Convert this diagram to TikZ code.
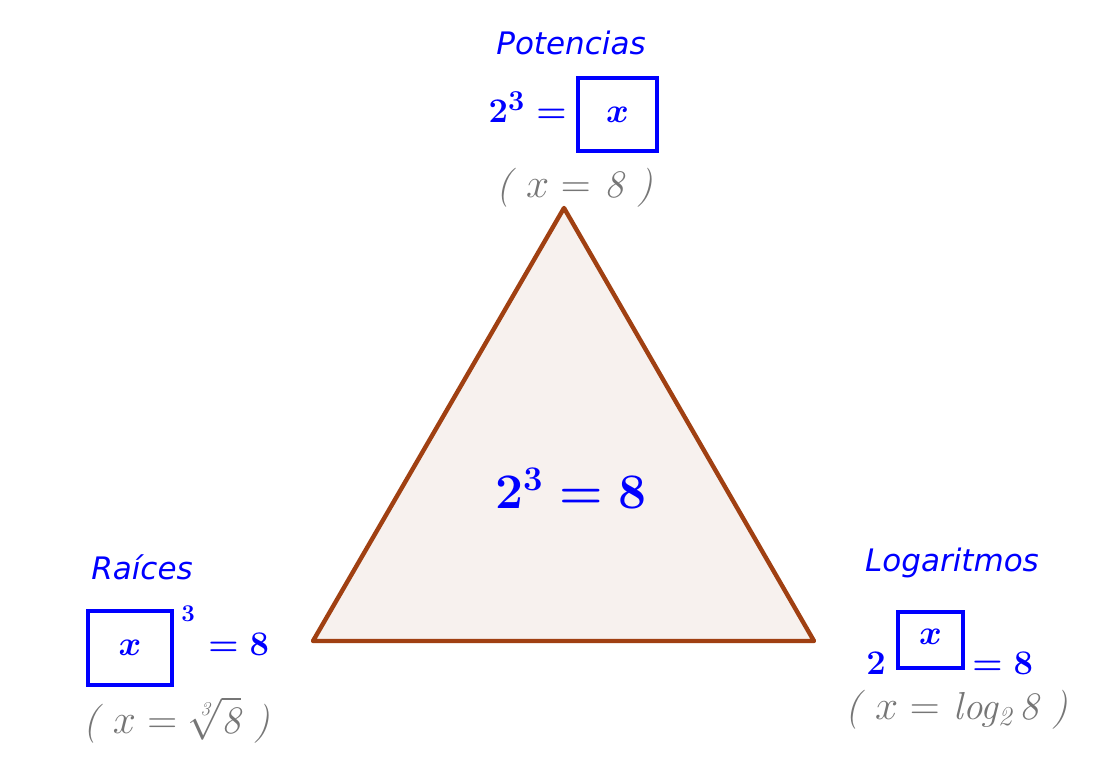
\documentclass[tikz,border=0pt]{standalone}
\usepackage{amsmath}
\usepackage{fontspec}
\newfontfamily\labelfont{DejaVu Sans}
\usetikzlibrary{positioning}
\definecolor{geoblue}{RGB}{0,0,255}
\definecolor{geobrown}{RGB}{160,64,18}
\definecolor{geofill}{RGB}{247,241,238}
\definecolor{geogray}{RGB}{118,118,118}
\tikzset{
  areatitle/.style={font=\labelfont\itshape\fontsize{15.5}{18}\selectfont,text=geoblue},
  bluemath/.style={font=\fontsize{19}{23}\selectfont\boldmath,text=geoblue,inner sep=0pt},
  answerbox/.style={draw=geoblue,line width=1.6pt,inner sep=0pt,text=geoblue,
    font=\fontsize{18}{22}\selectfont\boldmath},
  hint/.style={font=\fontsize{19.5}{23}\selectfont\itshape,text=geogray,inner sep=0pt},
}
\begin{document}
\begin{tikzpicture}[x=0.5pt,y=-0.5pt]
\useasboundingbox (0,0) rectangle (1120,764);
% triangle
\coordinate (pa) at (564,208);
\coordinate (pb) at (313,641);
\coordinate (pc) at (814,641);
\draw[fill=geofill,draw=geobrown,line width=2.2pt,line join=round](pa)--(pb)--(pc)--cycle;
\node[bluemath,font=\fontsize{23}{28}\selectfont\boldmath] (center) at (571,488) {$2^3=8$};
% powers
\node[areatitle] (pottitle) at (571,43) {Potencias};
\node[answerbox,minimum width=39.5pt,minimum height=36.5pt] (powbox) at (617.5,114.5) {$x$};
\node[bluemath,anchor=base east] (powlhs) at (567,123) {$2^3=$};
\node[hint] (powhint) at (575,188) {( $x=$ 8 )};
% roots
\node[areatitle] (roottitle) at (142,567) {Raíces};
\node[answerbox,minimum width=42pt,minimum height=37pt] (rootbox) at (130,648) {$x$};
\node[bluemath,font=\fontsize{12.5}{15}\selectfont\boldmath] (rootexp) at (188,614) {$3$};
\node[bluemath,anchor=base west] (rootrhs) at (208,655) {$=8$};
\node[hint] (roothint) at (177,720) {( $x=\sqrt[\mathit{3}]{\mathit{8}}$ )};
% logarithms
\node[areatitle] (logtitle) at (952,563) {Logaritmos};
\node[bluemath,anchor=base west] (logbase) at (866,675) {$2$};
\node[answerbox,minimum width=32.5pt,minimum height=28pt] (logbox) at (930.5,640) {};
\node[bluemath] (logx) at (930.5,637) {$x$};
\node[bluemath,anchor=base west] (logrhs) at (972,675) {$=8$};
\node[hint] (loghint) at (957,710) {( $x=$ log$_{\mathit{2}}$\,8 )};
\end{tikzpicture}
\end{document}
